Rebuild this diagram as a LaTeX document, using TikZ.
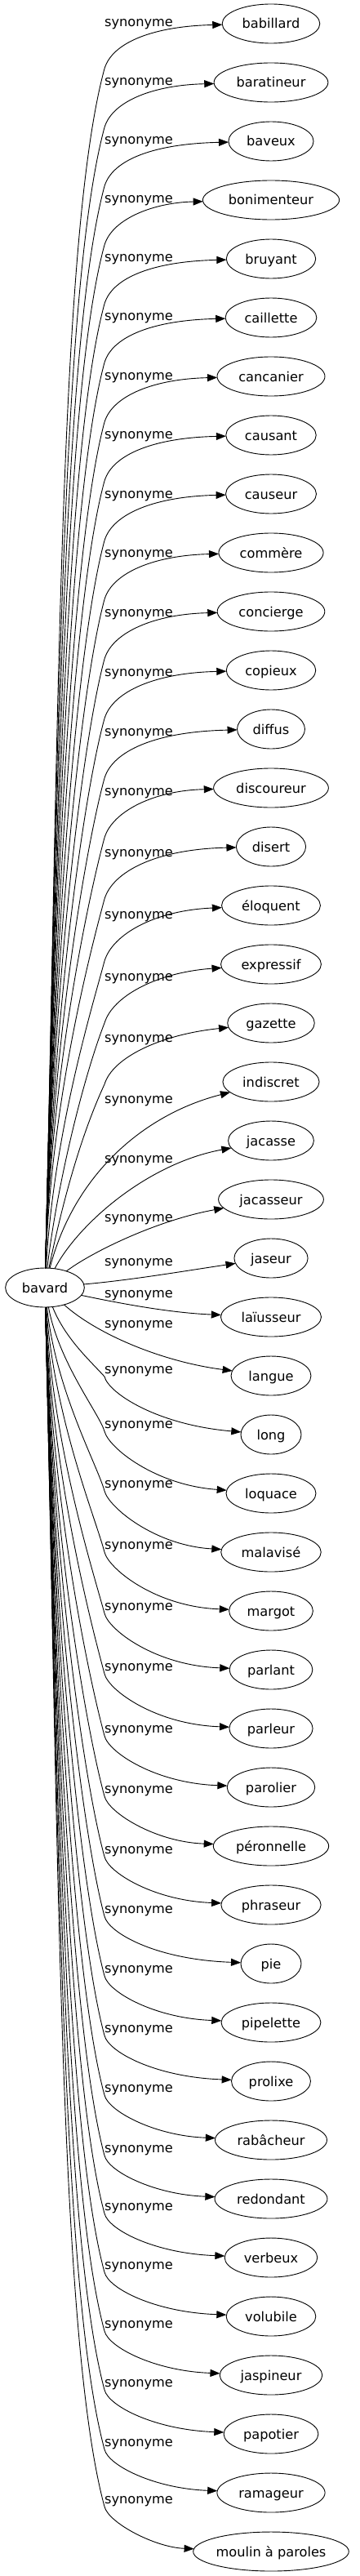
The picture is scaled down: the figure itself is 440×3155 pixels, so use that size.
\documentclass[tikz,border=0pt]{standalone}
\usepackage{fontspec}
\setmainfont{DejaVu Sans}
\usetikzlibrary{shapes.geometric, arrows.meta, positioning}
\tikzstyle{word} = [ellipse, draw=black, line width=0.9pt, outer sep=0pt, minimum height=48pt, minimum width=74pt, inner xsep=7pt, inner ysep=0pt, text height=12pt, text depth=0pt, font=\fontsize{16.2}{19}\selectfont]
\tikzstyle{synonym} = [inner sep=0pt, text height=9pt, text depth=0pt, font=\fontsize{16.2}{19}\selectfont]
\tikzstyle{arrow} = [line width=0.9pt, -{Triangle[length=12pt, width=9pt]}]

\begin{document}
\begin{tikzpicture}[x=1pt, y=-1pt]

\path[use as bounding box, fill=white] (0,0) rectangle (440,3155);

% --- Head word ---
\node (bavard) [word, inner xsep=6pt] at (55,1577) {bavard};

% --- Synonyms ---
\node (babillard) [word] at (332,29) {babillard};
\node (baratineur) [word, below=24pt of babillard] {baratineur};
\node (baveux) [word, below=24pt of baratineur] {baveux};
\node (bonimenteur) [word, below=24pt of baveux] {bonimenteur};
\node (bruyant) [word, below=24pt of bonimenteur] {bruyant};
\node (caillette) [word, below=24pt of bruyant] {caillette};
\node (cancanier) [word, below=24pt of caillette] {cancanier};
\node (causant) [word, below=24pt of cancanier] {causant};
\node (causeur) [word, below=24pt of causant] {causeur};
\node (commere) [word, below=24pt of causeur] {commère};
\node (concierge) [word, below=24pt of commere] {concierge};
\node (copieux) [word, below=24pt of concierge] {copieux};
\node (diffus) [word, below=24pt of copieux] {diffus};
\node (discoureur) [word, below=24pt of diffus] {discoureur};
\node (disert) [word, below=24pt of discoureur] {disert};
\node (eloquent) [word, below=24pt of disert] {éloquent};
\node (expressif) [word, below=24pt of eloquent] {expressif};
\node (gazette) [word, below=24pt of expressif] {gazette};
\node (indiscret) [word, below=24pt of gazette] {indiscret};
\node (jacasse) [word, below=24pt of indiscret] {jacasse};
\node (jacasseur) [word, below=24pt of jacasse] {jacasseur};
\node (jaseur) [word, below=24pt of jacasseur] {jaseur};
\node (laiusseur) [word, below=24pt of jaseur] {laïusseur};
\node (langue) [word, below=24pt of laiusseur] {langue};
\node (long) [word, below=24pt of langue] {long};
\node (loquace) [word, below=24pt of long] {loquace};
\node (malavise) [word, below=24pt of loquace] {malavisé};
\node (margot) [word, below=24pt of malavise] {margot};
\node (parlant) [word, below=24pt of margot] {parlant};
\node (parleur) [word, below=24pt of parlant] {parleur};
\node (parolier) [word, below=24pt of parleur] {parolier};
\node (peronnelle) [word, below=24pt of parolier] {péronnelle};
\node (phraseur) [word, below=24pt of peronnelle] {phraseur};
\node (pie) [word, below=24pt of phraseur] {pie};
\node (pipelette) [word, below=24pt of pie] {pipelette};
\node (prolixe) [word, below=24pt of pipelette] {prolixe};
\node (rabacheur) [word, below=24pt of prolixe] {rabâcheur};
\node (redondant) [word, below=24pt of rabacheur] {redondant};
\node (verbeux) [word, below=24pt of redondant] {verbeux};
\node (volubile) [word, below=24pt of verbeux] {volubile};
\node (jaspineur) [word, below=24pt of volubile] {jaspineur};
\node (papotier) [word, below=24pt of jaspineur] {papotier};
\node (ramageur) [word, below=24pt of papotier] {ramageur};
\node (moulin) [word, inner xsep=0pt, below=24pt of ramageur] {moulin à paroles};

% --- Edge labels ---
\node (syn_babillard) [synonym] at (170,28) {synonyme};
\node (syn_baratineur) [synonym] at (170,100) {synonyme};
\node (syn_baveux) [synonym] at (170,172) {synonyme};
\node (syn_bonimenteur) [synonym] at (170,244) {synonyme};
\node (syn_bruyant) [synonym] at (170,316) {synonyme};
\node (syn_caillette) [synonym] at (170,388) {synonyme};
\node (syn_cancanier) [synonym] at (170,461) {synonyme};
\node (syn_causant) [synonym] at (170,533) {synonyme};
\node (syn_causeur) [synonym] at (170,606) {synonyme};
\node (syn_commere) [synonym] at (170,678) {synonyme};
\node (syn_concierge) [synonym] at (170,751) {synonyme};
\node (syn_copieux) [synonym] at (170,824) {synonyme};
\node (syn_diffus) [synonym] at (170,897) {synonyme};
\node (syn_discoureur) [synonym] at (170,970) {synonyme};
\node (syn_disert) [synonym] at (170,1045) {synonyme};
\node (syn_eloquent) [synonym] at (170,1121) {synonyme};
\node (syn_expressif) [synonym] at (170,1197) {synonyme};
\node (syn_gazette) [synonym] at (170,1272) {synonyme};
\node (syn_indiscret) [synonym] at (170,1347) {synonyme};
\node (syn_jacasse) [synonym] at (170,1420) {synonyme};
\node (syn_jacasseur) [synonym] at (170,1492) {synonyme};
\node (syn_jaseur) [synonym] at (170,1546) {synonyme};
\node (syn_laiusseur) [synonym] at (170,1585) {synonyme};
\node (syn_langue) [synonym] at (170,1622) {synonyme};
\node (syn_long) [synonym] at (170,1678) {synonyme};
\node (syn_loquace) [synonym] at (170,1745) {synonyme};
\node (syn_malavise) [synonym] at (170,1818) {synonyme};
\node (syn_margot) [synonym] at (170,1893) {synonyme};
\node (syn_parlant) [synonym] at (170,1968) {synonyme};
\node (syn_parleur) [synonym] at (170,2042) {synonyme};
\node (syn_parolier) [synonym] at (170,2118) {synonyme};
\node (syn_peronnelle) [synonym] at (170,2192) {synonyme};
\node (syn_phraseur) [synonym] at (170,2266) {synonyme};
\node (syn_pie) [synonym] at (170,2339) {synonyme};
\node (syn_pipelette) [synonym] at (170,2412) {synonyme};
\node (syn_prolixe) [synonym] at (170,2485) {synonyme};
\node (syn_rabacheur) [synonym] at (170,2558) {synonyme};
\node (syn_redondant) [synonym] at (170,2632) {synonyme};
\node (syn_verbeux) [synonym] at (170,2703) {synonyme};
\node (syn_volubile) [synonym] at (170,2775) {synonyme};
\node (syn_jaspineur) [synonym] at (170,2847) {synonyme};
\node (syn_papotier) [synonym] at (170,2919) {synonyme};
\node (syn_ramageur) [synonym] at (170,2992) {synonyme};
\node (syn_moulin) [synonym] at (170,3062) {synonyme};

% --- Connections ---
% Upwards
\draw [arrow] (bavard) .. controls (72,892) and (72,290) .. (128,84) .. controls +(10,-33) and +(-142,3) .. (babillard);
\draw [arrow] (bavard) .. controls (71,924) and (75,352) .. (128,156) .. controls +(10,-33) and +(-142,3) .. (baratineur);
\draw [arrow] (bavard) .. controls (70,957) and (78,414) .. (128,228) .. controls +(10,-33) and +(-142,3) .. (baveux);
\draw [arrow] (bavard) .. controls (70,989) and (80,475) .. (128,300) .. controls +(10,-33) and +(-142,3) .. (bonimenteur);
\draw [arrow] (bavard) .. controls (69,1022) and (83,537) .. (128,372) .. controls +(10,-33) and +(-142,3) .. (bruyant);
\draw [arrow] (bavard) .. controls (68,1054) and (86,599) .. (128,444) .. controls +(10,-33) and +(-142,3) .. (caillette);
\draw [arrow] (bavard) .. controls (67,1087) and (89,662) .. (128,517) .. controls +(10,-33) and +(-142,3) .. (cancanier);
\draw [arrow] (bavard) .. controls (67,1119) and (91,724) .. (128,589) .. controls +(10,-33) and +(-142,3) .. (causant);
\draw [arrow] (bavard) .. controls (66,1152) and (94,787) .. (128,662) .. controls +(10,-33) and +(-142,3) .. (causeur);
\draw [arrow] (bavard) .. controls (65,1184) and (97,849) .. (128,734) .. controls +(10,-33) and +(-142,3) .. (commere);
\draw [arrow] (bavard) .. controls (64,1217) and (100,911) .. (128,807) .. controls +(10,-33) and +(-142,3) .. (concierge);
\draw [arrow] (bavard) .. controls (64,1250) and (102,974) .. (128,880) .. controls +(10,-33) and +(-142,3) .. (copieux);
\draw [arrow] (bavard) .. controls (63,1283) and (105,1037) .. (128,953) .. controls +(10,-33) and +(-142,3) .. (diffus);
\draw [arrow] (bavard) .. controls (62,1316) and (108,1100) .. (128,1026) .. controls +(10,-33) and +(-142,3) .. (discoureur);
\draw [arrow] (bavard) .. controls (62,1350) and (111,1164) .. (128,1101) .. controls +(10,-33) and +(-142,3) .. (disert);
\draw [arrow] (bavard) .. controls (66,1384) and (114,1230) .. (128,1177) .. controls +(10,-33) and +(-142,6) .. (eloquent);
\draw [arrow] (bavard) .. controls (70,1450) and (102,1320) .. (128,1253) .. controls +(10,-33) and +(-140,10) .. (expressif);
\draw [arrow] (bavard) .. controls (75,1480) and (97,1395) .. (128,1328) .. controls +(10,-33) and +(-135,14) .. (gazette);
\draw [arrow] (bavard) .. controls (90,1440) and (175,1365) .. (indiscret);
\draw [arrow] (bavard) .. controls (95,1500) and (180,1425) .. (jacasse);
\draw [arrow] (bavard) .. controls (110,1535) and (190,1495) .. (jacasseur);

% Sideways
\draw [arrow] (bavard) .. controls (160,1568) and (230,1556) .. (jaseur);
\draw [arrow] (bavard) .. controls (150,1597) and (210,1608) .. (laiusseur);
\draw [arrow] (bavard) .. controls (120,1635) and (200,1668) .. (langue);

% Downwards
\draw [arrow] (bavard) .. controls (80,1640) and (112,1668) .. (128,1686) .. controls +(5,20) and +(-140,-12) .. (long);
\draw [arrow] (bavard) .. controls (72,1669) and (122,1732) .. (128,1753) .. controls +(5,20) and +(-142,-10) .. (loquace);
\draw [arrow] (bavard) .. controls (68,1702) and (119,1794) .. (128,1826) .. controls +(5,20) and +(-142,-8) .. (malavise);
\draw [arrow] (bavard) .. controls (66,1736) and (117,1859) .. (128,1901) .. controls +(5,20) and +(-142,-5) .. (margot);
\draw [arrow] (bavard) .. controls (64,1770) and (114,1924) .. (128,1976) .. controls +(5,20) and +(-142,-5) .. (parlant);
\draw [arrow] (bavard) .. controls (63,1803) and (111,1987) .. (128,2050) .. controls +(5,20) and +(-142,-5) .. (parleur);
\draw [arrow] (bavard) .. controls (63,1837) and (108,2052) .. (128,2126) .. controls +(5,20) and +(-142,-5) .. (parolier);
\draw [arrow] (bavard) .. controls (63,1871) and (105,2116) .. (128,2200) .. controls +(5,20) and +(-142,-5) .. (peronnelle);
\draw [arrow] (bavard) .. controls (64,1904) and (102,2180) .. (128,2274) .. controls +(5,20) and +(-142,-5) .. (phraseur);
\draw [arrow] (bavard) .. controls (64,1937) and (100,2243) .. (128,2347) .. controls +(5,20) and +(-142,-5) .. (pie);
\draw [arrow] (bavard) .. controls (65,1970) and (97,2305) .. (128,2420) .. controls +(5,20) and +(-142,-5) .. (pipelette);
\draw [arrow] (bavard) .. controls (66,2002) and (94,2368) .. (128,2493) .. controls +(5,20) and +(-142,-5) .. (prolixe);
\draw [arrow] (bavard) .. controls (67,2035) and (91,2431) .. (128,2566) .. controls +(5,20) and +(-142,-5) .. (rabacheur);
\draw [arrow] (bavard) .. controls (67,2069) and (89,2495) .. (128,2640) .. controls +(5,20) and +(-142,-5) .. (redondant);
\draw [arrow] (bavard) .. controls (68,2101) and (86,2556) .. (128,2711) .. controls +(5,20) and +(-142,-5) .. (verbeux);
\draw [arrow] (bavard) .. controls (69,2133) and (83,2618) .. (128,2783) .. controls +(5,20) and +(-142,-5) .. (volubile);
\draw [arrow] (bavard) .. controls (70,2165) and (80,2679) .. (128,2855) .. controls +(5,20) and +(-142,-5) .. (jaspineur);
\draw [arrow] (bavard) .. controls (70,2198) and (78,2741) .. (128,2927) .. controls +(5,20) and +(-142,-5) .. (papotier);
\draw [arrow] (bavard) .. controls (71,2231) and (75,2804) .. (128,3000) .. controls +(5,20) and +(-142,-5) .. (ramageur);
\draw [arrow] (bavard) .. controls (72,2262) and (72,2864) .. (128,3070) .. controls +(5,20) and +(-142,-5) .. (moulin);

\end{tikzpicture}
\end{document}
